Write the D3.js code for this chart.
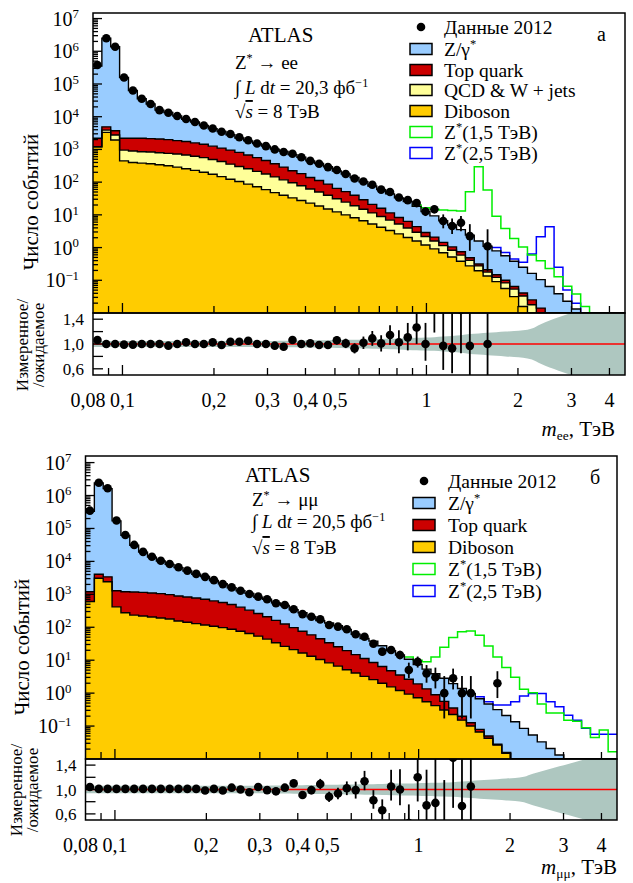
<!DOCTYPE html>
<html>
<head>
<meta charset="utf-8">
<script src="https://cdn.jsdelivr.net/npm/d3@7"></script>
<style>
body { margin: 0; background: #fff; }
text { font-family: "Liberation Serif", "Times New Roman", serif; fill: #000; }
</style>
</head>
<body>
<svg id="chart" width="633" height="883"></svg>
<script>
// binning of the mass axis: 60 bins, constant width in log(m), 0.08 - 4.5 TeV
const mLo = 0.08, mHi = 4.5, nBins = 60;
const binEdges = d3.range(nBins + 1).map(k => mLo * Math.pow(mHi / mLo, k / nBins));

const xTickMajor = [0.1, 1];
const xTickMinor = [0.09, 0.2, 0.3, 0.4, 0.5, 0.6, 0.7, 0.8, 0.9, 2, 3, 4];
const xTickLabels = [[0.08, "0,08"], [0.1, "0,1"], [0.2, "0,2"], [0.3, "0,3"], [0.4, "0,4"], [0.5, "0,5"], [1, "1"], [2, "2"], [3, "3"], [4, "4"]];
const yTickExp = [-1, 0, 1, 2, 3, 4, 5, 6, 7];
const ratioTicks = [0.6, 0.8, 1.0, 1.2, 1.4];
const ratioLabels = [[0.6, "0,6"], [1.0, "1,0"], [1.4, "1,4"]];

// ---- ee channel: log10(events per bin); stack values are cumulative tops
const eeTotal = [5.55, 6.40, 6.14, 5.20, 4.80, 4.55, 4.39, 4.20, 4.13, 4.02,
  3.92, 3.84, 3.73, 3.63, 3.55, 3.45, 3.35, 3.26, 3.18, 3.10,
  3.01, 2.94, 2.84, 2.76, 2.65, 2.57, 2.47, 2.34, 2.25, 2.14,
  2.01, 1.88, 1.77, 1.64, 1.52, 1.41, 1.26, 1.10, 0.97, 0.82,
  0.69, 0.55, 0.38, 0.20, 0.04, -0.10, -0.25, -0.42, -0.60, -0.79,
  -0.98, -1.19, -1.41, -1.64, -1.88, -2.15, null, null, null, null];
const eeTop = [3.34, 3.69, 3.57, 3.34, 3.34, 3.34, 3.33, 3.32, 3.30, 3.27,
  3.24, 3.20, 3.16, 3.10, 3.04, 2.98, 2.91, 2.83, 2.75, 2.66,
  2.56, 2.46, 2.35, 2.26, 2.14, 2.05, 1.94, 1.81, 1.71, 1.60,
  1.46, 1.32, 1.20, 1.06, 0.92, 0.80, 0.64, 0.46, 0.32, 0.16,
  0.02, -0.13, -0.31, -0.50, -0.68, -0.83, -1.00, -1.19, -1.39, -1.60,
  -1.85, -2.10, null, null, null, null, null, null, null, null];
const eeQcd = [3.08, 3.59, 3.44, 2.98, 2.95, 2.93, 2.92, 2.90, 2.88, 2.86,
  2.83, 2.79, 2.75, 2.69, 2.63, 2.55, 2.48, 2.41, 2.33, 2.25,
  2.16, 2.07, 1.98, 1.89, 1.79, 1.70, 1.60, 1.49, 1.39, 1.28,
  1.17, 1.06, 0.95, 0.84, 0.72, 0.60, 0.47, 0.34, 0.20, 0.06,
  -0.08, -0.23, -0.39, -0.56, -0.75, -0.91, -1.08, -1.27, -1.48, -1.75,
  -2.10, null, null, null, null, null, null, null, null, null];
const eeDiboson = [3.08, 3.52, 3.29, 2.65, 2.60, 2.58, 2.56, 2.53, 2.50, 2.46,
  2.41, 2.36, 2.30, 2.24, 2.17, 2.09, 2.02, 1.94, 1.86, 1.77,
  1.68, 1.60, 1.52, 1.44, 1.36, 1.27, 1.18, 1.09, 1.00, 0.91,
  0.82, 0.72, 0.62, 0.52, 0.42, 0.31, 0.20, 0.08, -0.04, -0.16,
  -0.29, -0.42, -0.56, -0.71, -0.87, -1.04, -1.25, -1.50, -1.80, -2.20,
  null, null, null, null, null, null, null, null, null, null];
// signal + background, only where it departs from the background
const eeZ15 = [null, null, null, null, null, null, null, null, null, null,
  null, null, null, null, null, null, null, null, null, null,
  null, null, null, null, null, null, null, null, null, null,
  null, null, null, null, null, null, 1.30, 1.22, 1.17, 1.15,
  1.13, 1.12, 1.71, 2.47, 1.76, 0.96, 0.58, 0.28, 0.02, -0.23,
  -0.40, -0.64, -0.89, -1.18, -1.42, -1.80, -2.20, null, null, null];
const eeZ25 = [null, null, null, null, null, null, null, null, null, null,
  null, null, null, null, null, null, null, null, null, null,
  null, null, null, null, null, null, null, null, null, null,
  null, null, null, null, null, null, null, null, null, null,
  null, null, null, null, null, 0.00, -0.15, -0.35, -0.45, -0.20,
  0.33, 0.64, -0.60, -1.30, -1.70, -2.20, null, null, null, null];
const eeData = [5.58, 6.40, 6.14, 5.20, 4.80, 4.55, 4.39, 4.20, 4.12, 4.02,
  3.93, 3.84, 3.73, 3.64, 3.54, 3.47, 3.37, 3.28, 3.18, 3.10,
  3.00, 2.92, 2.87, 2.76, 2.65, 2.56, 2.46, 2.37, 2.25, 2.11,
  2.02, 1.92, 1.77, 1.70, 1.53, 1.45, 1.36, 1.10, 1.17, 0.81,
  0.66, 0.76, 0.35, null, 0.04];
// relative statistical error, up and down
const eeErrUp = [0, 0, 0, 0, 0, 0, 0, 0, 0, 0,
  0, 0, 0, 0, 0, 0, 0.02, 0.022, 0.025, 0.028,
  0.032, 0.035, 0.037, 0.042, 0.047, 0.052, 0.059, 0.065, 0.075, 0.088,
  0.098, 0.11, 0.13, 0.14, 0.19, 0.21, 0.23, 0.34, 0.31, 0.60,
  0.68, 0.60, 1.32, null, 2.30];
const eeErrDn = [0, 0, 0, 0, 0, 0, 0, 0, 0, 0,
  0, 0, 0, 0, 0, 0, 0.02, 0.022, 0.025, 0.028,
  0.032, 0.035, 0.037, 0.042, 0.047, 0.052, 0.059, 0.065, 0.075, 0.088,
  0.098, 0.11, 0.13, 0.14, 0.17, 0.19, 0.21, 0.27, 0.25, 0.40,
  0.43, 0.45, 0.645, null, 0.83];
const eeRatio = [1.064, 1.0, 1.0, 0.99, 0.99, 1.0, 1.0, 1.0, 0.973, 1.0,
  1.027, 1.0, 1.0, 1.027, 0.984, 1.037, 1.037, 1.053, 1.0, 1.0,
  0.973, 0.955, 1.064, 1.0, 1.01, 0.984, 0.984, 1.06, 1.01, 0.93,
  1.02, 1.09, 1.01, 1.144, 1.027, 1.107, 1.267, 1.0, 1.58, 0.97,
  0.93, 1.55, 0.97, null, 1.0];
const eeSyst = [0.05, 0.05, 0.05, 0.05, 0.05, 0.05, 0.05, 0.05, 0.05, 0.05,
  0.05, 0.05, 0.05, 0.05, 0.05, 0.05, 0.05, 0.05, 0.05, 0.05,
  0.05, 0.052, 0.054, 0.056, 0.058, 0.06, 0.062, 0.065, 0.068, 0.07,
  0.074, 0.078, 0.082, 0.086, 0.09, 0.095, 0.10, 0.105, 0.11, 0.12,
  0.13, 0.14, 0.16, 0.17, 0.18, 0.19, 0.20, 0.21, 0.22, 0.25,
  0.32, 0.38, 0.43, 0.48, 0.53, 0.58, 0.63, 0.68, 0.72, 0.76];

// ---- mumu channel
const muTotal = [5.52, 6.38, 6.21, 5.23, 4.79, 4.49, 4.28, 4.13, 4.01, 3.91,
  3.81, 3.71, 3.61, 3.54, 3.42, 3.32, 3.20, 3.11, 3.03, 2.91,
  2.85, 2.74, 2.66, 2.53, 2.44, 2.32, 2.20, 2.13, 2.05, 1.93,
  1.79, 1.66, 1.58, 1.44, 1.29, 1.16, 1.03, 0.87, 0.73, 0.59,
  0.45, 0.29, 0.14, -0.01, -0.17, -0.33, -0.50, -0.68, -0.87, -1.07,
  -1.27, -1.48, -1.68, -1.88, -2.10, null, null, null, null, null];
const muTop = [3.08, 3.61, 3.53, 3.11, 3.08, 3.07, 3.06, 3.04, 3.02, 2.99,
  2.95, 2.92, 2.89, 2.85, 2.80, 2.75, 2.69, 2.61, 2.52, 2.42,
  2.32, 2.21, 2.10, 1.99, 1.88, 1.77, 1.65, 1.53, 1.41, 1.29,
  1.17, 1.05, 0.93, 0.81, 0.68, 0.55, 0.42, 0.28, 0.13, -0.05,
  -0.25, -0.45, -0.70, -0.90, -1.10, -1.30, -1.55, -1.80, -2.10, null,
  null, null, null, null, null, null, null, null, null, null];
const muDiboson = [2.78, 3.49, 3.38, 2.62, 2.44, 2.37, 2.34, 2.31, 2.28, 2.25,
  2.19, 2.15, 2.11, 2.07, 2.03, 1.99, 1.94, 1.88, 1.81, 1.73,
  1.64, 1.53, 1.42, 1.32, 1.22, 1.12, 1.02, 0.92, 0.82, 0.71,
  0.61, 0.51, 0.41, 0.30, 0.19, 0.08, -0.03, -0.14, -0.26, -0.38,
  -0.51, -0.65, -0.82, -1.00, -1.18, -1.37, -1.58, -1.83, -2.10, null,
  null, null, null, null, null, null, null, null, null, null];
const muZ15 = [null, null, null, null, null, null, null, null, null, null,
  null, null, null, null, null, null, null, null, null, null,
  null, null, null, null, null, null, null, null, null, null,
  null, null, null, null, null, null, 1.10, 1.00, 0.95, 1.10,
  1.39, 1.69, 1.86, 1.89, 1.76, 1.43, 1.10, 0.78, 0.48, 0.12,
  0.01, -0.33, -0.60, -0.60, -0.82, -0.85, -1.05, -1.35, -1.12, -1.78];
const muZ25 = [null, null, null, null, null, null, null, null, null, null,
  null, null, null, null, null, null, null, null, null, null,
  null, null, null, null, null, null, null, null, null, null,
  null, null, null, null, null, null, null, null, null, null,
  null, null, null, null, -0.11, -0.26, -0.36, -0.36, -0.26, -0.09,
  -0.01, -0.01, -0.26, -0.41, -0.67, -0.82, -1.07, -1.25, -1.25, -1.25];
const muData = [5.54, 6.39, 6.22, 5.24, 4.80, 4.50, 4.29, 4.14, 4.02, 3.92,
  3.82, 3.72, 3.62, 3.53, 3.43, 3.31, 3.21, 3.11, 3.01, 2.93,
  2.85, 2.73, 2.675, 2.545, 2.40, 2.32, 2.24, 2.07, 2.02, 1.94,
  1.79, 1.71, 1.50, 1.26, 1.31, 1.16, 0.70, 0.95, 0.60, 0.48,
  0.0, 0.45, 0.0, 0.0, null, null, 0.30];
const muErrUp = [0, 0, 0, 0, 0, 0, 0, 0, 0, 0,
  0, 0, 0, 0, 0, 0, 0.025, 0.028, 0.031, 0.034,
  0.038, 0.043, 0.046, 0.054, 0.064, 0.07, 0.077, 0.095, 0.10, 0.11,
  0.14, 0.15, 0.20, 0.27, 0.26, 0.33, 0.68, 0.45, 0.79, 0.97,
  2.30, 0.97, 2.30, 2.30, null, null, 1.32];
const muErrDn = [0, 0, 0, 0, 0, 0, 0, 0, 0, 0,
  0, 0, 0, 0, 0, 0, 0.025, 0.028, 0.031, 0.034,
  0.038, 0.043, 0.046, 0.054, 0.064, 0.07, 0.077, 0.095, 0.10, 0.11,
  0.14, 0.13, 0.17, 0.23, 0.22, 0.26, 0.43, 0.33, 0.48, 0.54,
  0.83, 0.54, 0.83, 0.83, null, null, 0.645];
const muRatio = [1.04, 1.01, 1.01, 1.01, 1.01, 1.01, 1.01, 1.01, 1.01, 1.01,
  1.01, 1.01, 1.01, 0.984, 1.01, 0.984, 1.03, 1.0, 0.956, 1.04,
  0.99, 0.97, 1.03, 1.10, 0.91, 0.99, 1.09, 0.88, 0.935, 1.02,
  0.99, 1.135, 0.825, 0.66, 1.05, 1.0, 0.45, 1.20, 0.74, 0.78,
  0.35, 1.52, 0.73, 1.05];
const muSyst = [0.06, 0.06, 0.06, 0.06, 0.06, 0.06, 0.06, 0.06, 0.06, 0.06,
  0.06, 0.06, 0.06, 0.06, 0.06, 0.06, 0.06, 0.06, 0.06, 0.06,
  0.062, 0.064, 0.066, 0.068, 0.07, 0.072, 0.074, 0.076, 0.078, 0.08,
  0.082, 0.085, 0.088, 0.091, 0.094, 0.097, 0.10, 0.104, 0.108, 0.11,
  0.115, 0.12, 0.13, 0.14, 0.15, 0.16, 0.17, 0.18, 0.19, 0.21,
  0.26, 0.30, 0.34, 0.38, 0.42, 0.46, 0.50, 0.55, 0.60, 0.65];

const colZ = "#99ccff", colTop = "#cc0000", colQcd = "#ffff99", colDib = "#ffcc00";
const colS15 = "#00ee00", colS25 = "#0000ff", colBand = "#aec7c0";

const svg = d3.select("#chart");
const defs = svg.append("defs");

function rich(g, x, y, parts, size, anchor) {
  const t = g.append("text").attr("x", x).attr("y", y)
    .attr("font-size", size).attr("text-anchor", anchor || "start");
  let shift = 0;
  parts.forEach(p => {
    const ts = t.append("tspan").text(p.t);
    let target = 0;
    if (p.sup) { target = -size * 0.36; ts.attr("font-size", size * 0.64); }
    if (p.sub) { target = size * 0.2; ts.attr("font-size", size * 0.64); }
    if (p.i) ts.attr("font-style", "italic");
    if (p.ol) ts.style("text-decoration", "overline");
    ts.attr("dy", target - shift);
    shift = target;
  });
  return t;
}

function drawPanel(p) {
  const x = d3.scaleLog().domain([mLo, mHi]).range([p.left, p.right]);
  const y = d3.scaleLog().domain([1e-2, Math.pow(10, p.yTop)]).range([p.mainBottom, p.mainTop]).clamp(true);
  const yr = d3.scaleLinear().domain([0.5, 1.5]).range([p.ratioBottom, p.mainBottom]);
  const ev = v => Math.pow(10, v == null ? -10 : v);
  const w = p.right - p.left;

  defs.append("clipPath").attr("id", "cm" + p.id).append("rect")
    .attr("x", p.left).attr("y", p.mainTop).attr("width", w).attr("height", p.mainBottom - p.mainTop);
  defs.append("clipPath").attr("id", "cr" + p.id).append("rect")
    .attr("x", p.left).attr("y", p.mainBottom).attr("width", w).attr("height", p.ratioBottom - p.mainBottom);

  const g = svg.append("g");
  const mg = g.append("g").attr("clip-path", `url(#cm${p.id})`);
  const rg = g.append("g").attr("clip-path", `url(#cr${p.id})`);

  const fillPts = vals => binEdges.map((e, k) => ({ e, v: vals[Math.min(k, nBins - 1)] }));
  const sigPts = vals => binEdges.map((e, k) => ({ e, v: vals[k] != null ? vals[k] : (k > 0 ? vals[k - 1] : null) }));
  const area = d3.area().curve(d3.curveStepAfter)
    .x(d => x(d.e)).y0(p.mainBottom).y1(d => y(ev(d.v)));
  const line = d3.line().curve(d3.curveStepAfter).x(d => x(d.e)).y(d => y(ev(d.v)));
  const sigLine = d3.line().curve(d3.curveStepAfter).defined(d => d.v != null)
    .x(d => x(d.e)).y(d => y(ev(d.v)));

  p.stack.forEach(s => mg.append("path").attr("d", area(fillPts(s.vals))).attr("fill", s.color));
  p.signals.forEach(s => mg.append("path").attr("d", sigLine(sigPts(s.vals)))
    .attr("fill", "none").attr("stroke", s.color).attr("stroke-width", 1.5));
  p.stack.forEach(s => mg.append("path").attr("d", line(fillPts(s.vals)))
    .attr("fill", "none").attr("stroke", "#000").attr("stroke-width", 1.4));

  const centre = i => Math.sqrt(binEdges[i] * binEdges[i + 1]);
  p.data.forEach((v, i) => {
    if (v == null) return;
    const cx = x(centre(i));
    if (p.errUp[i] > 0) {
      mg.append("line").attr("x1", cx).attr("x2", cx)
        .attr("y1", y(ev(v) * (1 - p.errDn[i]))).attr("y2", y(ev(v) * (1 + p.errUp[i])))
        .attr("stroke", "#000").attr("stroke-width", 1.8);
    }
    mg.append("circle").attr("cx", cx).attr("cy", y(ev(v))).attr("r", 4.3).attr("fill", "#000");
  });

  // ratio panel
  const bandPts = [{ m: mLo, s: p.syst[0] }]
    .concat(p.syst.map((s, i) => ({ m: centre(i), s })))
    .concat([{ m: mHi, s: p.syst[nBins - 1] }]);
  rg.append("path").attr("fill", colBand)
    .attr("d", d3.area().curve(d3.curveMonotoneX)
      .x(d => x(d.m)).y0(d => yr(1 - d.s)).y1(d => yr(1 + d.s))(bandPts));
  rg.append("line").attr("x1", p.left).attr("x2", p.right)
    .attr("y1", yr(1)).attr("y2", yr(1)).attr("stroke", "#ff0000").attr("stroke-width", 1.6);
  p.ratio.forEach((r, i) => {
    if (r == null) return;
    const cx = x(centre(i));
    if (p.errUp[i] > 0) {
      rg.append("line").attr("x1", cx).attr("x2", cx)
        .attr("y1", yr(r * (1 - p.errDn[i]))).attr("y2", yr(r * (1 + p.errUp[i])))
        .attr("stroke", "#000").attr("stroke-width", 1.8);
    }
    rg.append("circle").attr("cx", cx).attr("cy", yr(r)).attr("r", 4.3).attr("fill", "#000");
  });

  // ticks
  const tk = g.append("g").attr("stroke", "#000").attr("stroke-width", 1.3);
  [p.mainBottom, p.ratioBottom].forEach(yb => {
    xTickMajor.forEach(m => tk.append("line").attr("x1", x(m)).attr("x2", x(m)).attr("y1", yb).attr("y2", yb - 10));
    xTickMinor.forEach(m => tk.append("line").attr("x1", x(m)).attr("x2", x(m)).attr("y1", yb).attr("y2", yb - 7));
  });
  for (let d = -2; d <= 7; d++) {
    for (let k = 1; k <= 9; k++) {
      const v = k * Math.pow(10, d);
      if (v <= 1e-2 || Math.log10(v) > p.yTop) continue;
      const yy = y(v);
      tk.append("line").attr("x1", p.left).attr("x2", p.left + (k === 1 ? 9 : 5)).attr("y1", yy).attr("y2", yy);
    }
  }
  ratioTicks.forEach(r => tk.append("line").attr("x1", p.left).attr("x2", p.left + 10).attr("y1", yr(r)).attr("y2", yr(r)));

  // frames
  g.append("rect").attr("x", p.left).attr("y", p.mainTop).attr("width", w).attr("height", p.mainBottom - p.mainTop)
    .attr("fill", "none").attr("stroke", "#000").attr("stroke-width", 1.5);
  g.append("rect").attr("x", p.left).attr("y", p.mainBottom).attr("width", w).attr("height", p.ratioBottom - p.mainBottom)
    .attr("fill", "none").attr("stroke", "#000").attr("stroke-width", 1.5);

  // tick labels
  yTickExp.forEach(e => rich(g, p.left - 14, y(Math.pow(10, e)) + 7,
    [{ t: "10" }, { t: e < 0 ? "\u2212" + (-e) : String(e), sup: true }], 20, "end"));
  ratioLabels.forEach(([r, s]) => g.append("text").attr("x", p.left - 9).attr("y", yr(r) + 6)
    .attr("font-size", 17).attr("text-anchor", "end").text(s));
  xTickLabels.forEach(([m, s]) => g.append("text").attr("x", x(m) + (m === 0.08 ? -5 : 0)).attr("y", p.ratioBottom + 32)
    .attr("font-size", 20).attr("text-anchor", "middle").text(s));

  // axis titles
  rich(g, p.xTitleX, p.ratioBottom + p.xTitleDy, [{ t: "m", i: true }, { t: p.sub, sub: true }, { t: ", ТэВ" }], 21, "end");
  g.append("text").attr("transform", `translate(${p.yTitle[0]},${p.yTitle[1]}) rotate(-90)`)
    .attr("font-size", 21).attr("text-anchor", "middle").text("Число событий");
  g.append("text").attr("transform", `translate(${p.rTitle[0]},${p.rTitle[2]}) rotate(-90)`)
    .attr("font-size", 17).attr("text-anchor", "middle").text("Измеренное/");
  g.append("text").attr("transform", `translate(${p.rTitle[1]},${p.rTitle[2]}) rotate(-90)`)
    .attr("font-size", 17).attr("text-anchor", "middle").text("/ожидаемое");

  // labels inside
  g.append("text").attr("x", p.atlas[0]).attr("y", p.atlas[1]).attr("font-size", 21).text("ATLAS");
  rich(g, p.info[0], p.info[1], [{ t: "Z" }, { t: "*", sup: true }, { t: " \u2192 " + p.chan }], 19);
  rich(g, p.info[0], p.info[2], [{ t: "\u222B " }, { t: "L", i: true }, { t: " d" }, { t: "t", i: true },
    { t: " = " + p.lumi + " фб" }, { t: "\u22121", sup: true }], 19);
  rich(g, p.info[0], p.info[3], [{ t: "\u221A" }, { t: "s", i: true, ol: true }, { t: " = 8 ТэВ" }], 19);
  g.append("text").attr("x", p.letter[0]).attr("y", p.letter[1]).attr("font-size", 20).text(p.letterText);

  // legend
  const L = p.legend;
  L.items.forEach((it, k) => {
    const ry = L.rows[k];
    if (it.kind === "data") {
      g.append("circle").attr("cx", L.dotX).attr("cy", ry).attr("r", 4.3).attr("fill", "#000");
    } else {
      g.append("rect").attr("x", L.boxX).attr("y", ry - 5.5).attr("width", 22).attr("height", 11)
        .attr("fill", it.kind === "fill" ? it.color : "#fff")
        .attr("stroke", it.kind === "fill" ? "#000" : it.color).attr("stroke-width", 1.5);
    }
    rich(g, L.textX, ry + 6.5, it.parts, 19.5);
  });
}

const legendParts = {
  data: [{ t: "Данные 2012" }],
  z: [{ t: "Z/γ" }, { t: "*", sup: true }],
  top: [{ t: "Top quark" }],
  qcd: [{ t: "QCD & W + jets" }],
  dib: [{ t: "Diboson" }],
  s15: [{ t: "Z" }, { t: "*", sup: true }, { t: "(1,5 ТэВ)" }],
  s25: [{ t: "Z" }, { t: "*", sup: true }, { t: "(2,5 ТэВ)" }]
};

drawPanel({
  id: "ee", left: 93, right: 625, mainTop: 13, mainBottom: 313, ratioBottom: 375, yTop: 7.17,
  stack: [{ vals: eeTotal, color: colZ }, { vals: eeTop, color: colTop }, { vals: eeQcd, color: colQcd }, { vals: eeDiboson, color: colDib }],
  signals: [{ vals: eeZ25, color: colS25 }, { vals: eeZ15, color: colS15 }],
  data: eeData, errUp: eeErrUp, errDn: eeErrDn, ratio: eeRatio, syst: eeSyst,
  sub: "ee", xTitleX: 615, xTitleDy: 61, yTitle: [38, 202], rTitle: [28, 44, 345],
  atlas: [248, 42], info: [235, 69, 94, 118], chan: "ee", lumi: "20,3",
  letter: [597, 41], letterText: "а",
  legend: {
    dotX: 421, boxX: 410, textX: 444, rows: [27, 49, 70, 90, 111, 132, 153],
    items: [
      { kind: "data", parts: legendParts.data },
      { kind: "fill", color: colZ, parts: legendParts.z },
      { kind: "fill", color: colTop, parts: legendParts.top },
      { kind: "fill", color: colQcd, parts: legendParts.qcd },
      { kind: "fill", color: colDib, parts: legendParts.dib },
      { kind: "line", color: colS15, parts: legendParts.s15 },
      { kind: "line", color: colS25, parts: legendParts.s25 }
    ]
  }
});

drawPanel({
  id: "mm", left: 85.5, right: 617, mainTop: 456, mainBottom: 759, ratioBottom: 820, yTop: 7.2,
  stack: [{ vals: muTotal, color: colZ }, { vals: muTop, color: colTop }, { vals: muDiboson, color: colDib }],
  signals: [{ vals: muZ25, color: colS25 }, { vals: muZ15, color: colS15 }],
  data: muData, errUp: muErrUp, errDn: muErrDn, ratio: muRatio, syst: muSyst,
  sub: "μμ", xTitleX: 617, xTitleDy: 54, yTitle: [29, 647], rTitle: [22, 38, 790],
  atlas: [245, 482], info: [252, 506, 528, 554], chan: "μμ", lumi: "20,5",
  letter: [590, 484], letterText: "б",
  legend: {
    dotX: 424, boxX: 413, textX: 448, rows: [481, 503, 525, 547, 569, 591],
    items: [
      { kind: "data", parts: legendParts.data },
      { kind: "fill", color: colZ, parts: legendParts.z },
      { kind: "fill", color: colTop, parts: legendParts.top },
      { kind: "fill", color: colDib, parts: legendParts.dib },
      { kind: "line", color: colS15, parts: legendParts.s15 },
      { kind: "line", color: colS25, parts: legendParts.s25 }
    ]
  }
});
</script>
</body>
</html>
